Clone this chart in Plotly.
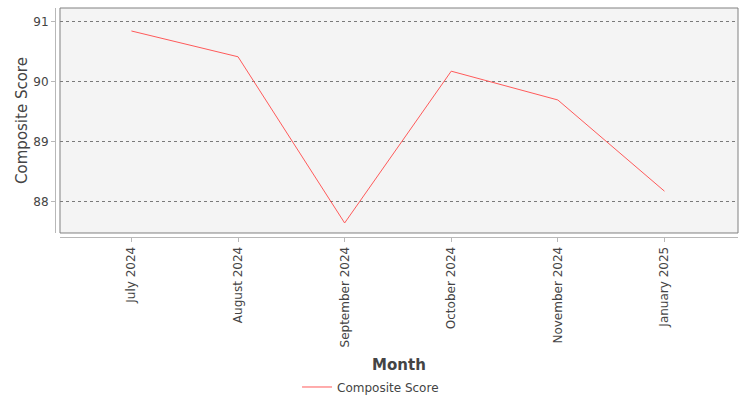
import plotly.graph_objects as go

months = ["July 2024", "August 2024", "September 2024", "October 2024", "November 2024", "January 2025"]
composite_score = [90.85, 90.42, 87.65, 90.18, 89.70, 88.18]

font_family = "DejaVu Sans"
axis_gray = "#b8b8b8"

fig = go.Figure()
fig.add_trace(go.Scatter(
    x=months, y=composite_score, mode="lines", name="Composite Score",
    line=dict(color="#ff5a5a", width=1),
))

# plot border
fig.add_shape(type="rect", xref="x domain", yref="y domain", x0=0, x1=1, y0=0, y1=1,
              line=dict(color="#808080", width=1), layer="above")

fig.update_layout(
    width=750, height=400,
    margin=dict(l=55, r=12, t=8, b=163, autoexpand=False),
    paper_bgcolor="white", plot_bgcolor="#f4f4f4",
    font=dict(family=font_family, color="#444444", size=12),
    showlegend=True,
    legend=dict(orientation="h", x=0.462, xanchor="center", y=-0.655, yanchor="middle",
                font=dict(size=12, color="#444444")),
    xaxis=dict(
        type="category", domain=[0.0073, 1], range=[-0.67, 5.69],
        anchor="free", position=0, automargin=False,
        showline=True, linecolor=axis_gray, linewidth=1,
        ticks="outside", ticklen=4, tickcolor=axis_gray,
        tickangle=-90, tickfont=dict(size=12, color="#444444"),
        showgrid=False, zeroline=False,
        title=dict(text="<b>Month</b>", font=dict(size=15, color="#444444"), standoff=13),
    ),
    yaxis=dict(
        domain=[0.0175, 1], range=[87.483, 91.233],
        anchor="free", position=0, automargin=False,
        tickvals=[88, 89, 90, 91],
        showline=True, linecolor=axis_gray, linewidth=1,
        ticks="outside", ticklen=4, tickcolor=axis_gray,
        tickfont=dict(size=12, color="#444444"),
        showgrid=True, gridcolor="#7a7a7a", griddash="dot", gridwidth=1,
        zeroline=False,
        title=dict(text="Composite Score", font=dict(size=15, color="#444444"), standoff=1),
    ),
)

# page body has a default 8px margin; drop it so the figure fills the window
fig.write_html("out.html", config={"displayModeBar": False},
               post_script="document.body.style.margin = '0px';")
